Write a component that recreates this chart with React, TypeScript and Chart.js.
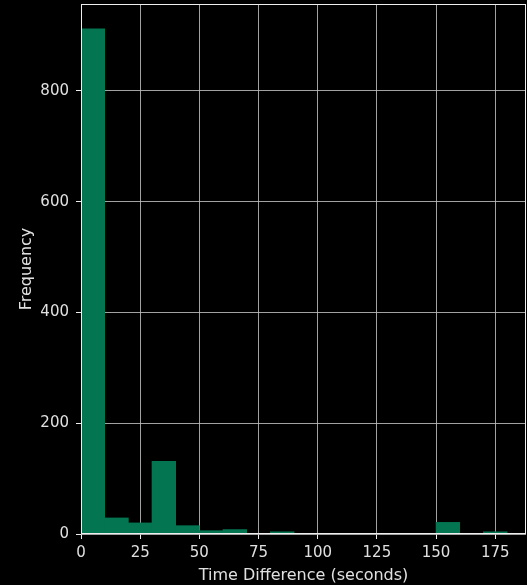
import React, { useEffect, useRef } from "react";
import { Chart, registerables } from "chart.js";

Chart.register(...registerables);

// Histogram bins (left edges, width 10 s) and their counts
const binStarts = [0, 10, 20, 30, 40, 50, 60, 70, 80, 90, 100, 110, 120, 130, 140, 150, 160, 170];
const binWidth = 10;
const counts = [912, 29, 20, 131, 15, 6, 8, 0, 4, 0, 1, 1, 1, 0, 1, 21, 0, 4];
const xTicks = [0, 25, 50, 75, 100, 125, 150, 175];
const yTicks = [0, 200, 400, 600, 800];
const xLimits = [0, 188];
const yLimits = [0, 957];
const xTitle = "Time Difference (seconds)";
const yTitle = "Frequency";

const FONT = "DejaVu Sans";
const TEXT = "#e0e0e0";
const GRID = "rgba(190,190,190,0.85)";

const framePlugin = {
  id: "frame",
  afterDraw(chart: any) {
    const { ctx, chartArea } = chart;
    ctx.save();
    ctx.strokeStyle = "#eeeeee";
    ctx.lineWidth = 1;
    ctx.strokeRect(
      Math.round(chartArea.left) + 0.5,
      Math.round(chartArea.top) + 0.5,
      Math.round(chartArea.right - chartArea.left) - 1,
      Math.round(chartArea.bottom - chartArea.top) - 1
    );
    ctx.restore();
  },
};

export default function App() {
  const ref = useRef<HTMLCanvasElement | null>(null);

  useEffect(() => {
    if (!ref.current) return;
    const data = binStarts.map((s, i) => ({ x: s + binWidth / 2, y: counts[i] }));
    const chart = new Chart(ref.current, {
      type: "bar",
      data: {
        datasets: [
          {
            data: data as any,
            backgroundColor: "rgb(3,117,81)",
            borderWidth: 0,
            barPercentage: 1,
            categoryPercentage: 1,
          },
        ],
      },
      options: {
        animation: false,
        responsive: false,
        maintainAspectRatio: false,
        layout: { padding: { top: 4, right: 1, left: 0, bottom: 0 } },
        plugins: {
          legend: { display: false },
          tooltip: { enabled: false },
        },
        scales: {
          x: {
            type: "linear",
            min: xLimits[0],
            max: xLimits[1],
            offset: false,
            z: 1,
            border: { display: false },
            grid: {
              offset: false,
              color: GRID,
              lineWidth: 1,
              drawTicks: true,
              tickLength: 5,
              tickColor: "#eeeeee",
            },
            ticks: {
              color: TEXT,
              font: { family: FONT, size: 15 },
              padding: 5,
              maxRotation: 0,
            },
            afterBuildTicks: (s: any) => {
              s.ticks = xTicks.map((v) => ({ value: v }));
            },
            afterFit: (s: any) => {
              s.height = 51;
              s.paddingLeft = 0;
              s.paddingRight = 0;
            },
            title: {
              display: true,
              text: xTitle,
              color: TEXT,
              font: { family: FONT, size: 16 },
              padding: { top: 0, bottom: 0 },
            },
          },
          y: {
            type: "linear",
            min: yLimits[0],
            max: yLimits[1],
            z: 1,
            border: { display: false },
            grid: {
              color: GRID,
              lineWidth: 1,
              drawTicks: true,
              tickLength: 5,
              tickColor: "#eeeeee",
            },
            ticks: {
              color: TEXT,
              font: { family: FONT, size: 15 },
              padding: 7,
            },
            afterBuildTicks: (s: any) => {
              s.ticks = yTicks.map((v) => ({ value: v }));
            },
            afterFit: (s: any) => {
              s.width = 81;
              s.paddingTop = 0;
              s.paddingBottom = 0;
            },
            title: {
              display: true,
              text: yTitle,
              color: TEXT,
              font: { family: FONT, size: 16 },
              padding: { top: 17, bottom: 0 },
            },
          },
        },
      },
      plugins: [framePlugin],
    });
    return () => chart.destroy();
  }, []);

  return (
    <div
      style={{
        position: "fixed",
        left: 0,
        top: 0,
        width: 527,
        height: 585,
        background: "#000",
      }}
    >
      <canvas ref={ref} width={527} height={585} style={{ display: "block" }} />
    </div>
  );
}
